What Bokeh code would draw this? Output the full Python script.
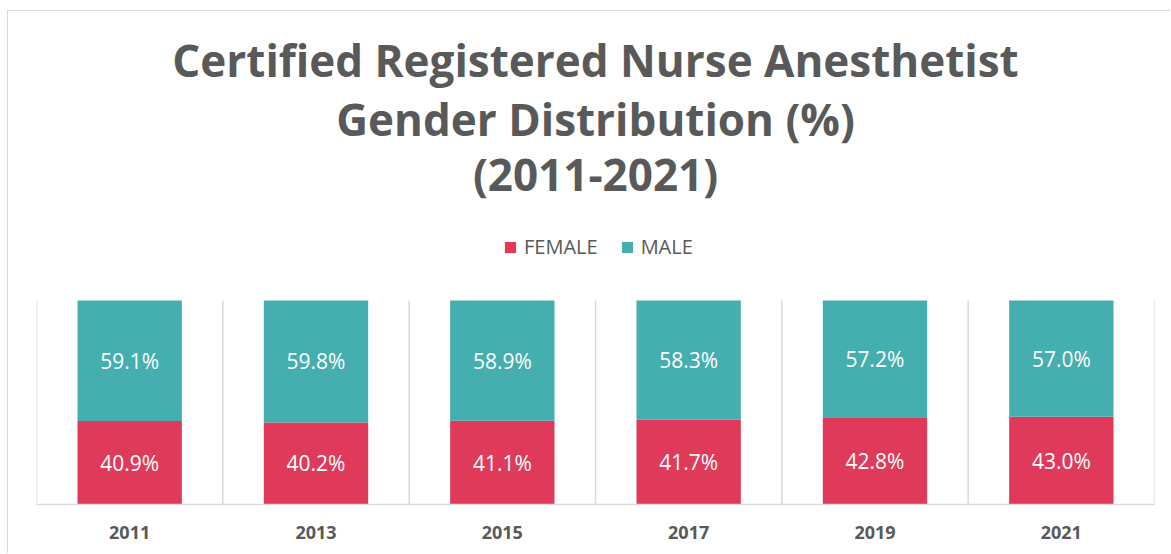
from bokeh.plotting import figure
from bokeh.models import ColumnDataSource, Range1d, FixedTicker, Label, Legend, LegendItem
from bokeh.core.properties import value
from bokeh.embed import file_html
from bokeh.resources import INLINE

# ---- data ----
years = ["2011", "2013", "2015", "2017", "2019", "2021"]
female = [40.9, 40.2, 41.1, 41.7, 42.8, 43.0]
male = [59.1, 59.8, 58.9, 58.3, 57.2, 57.0]
series_names = ["FEMALE", "MALE"]
title_lines = ["Certified Registered Nurse Anesthetist",
               "Gender Distribution (%)",
               "(2011-2021)"]

# ---- style ----
FEMALE_COLOR = "#E03A5A"
MALE_COLOR = "#45AEAF"
TEXT_COLOR = "#595959"
GRID_COLOR = "#D9D9D9"
FONT = "Open Sans"

W, H = 1163, 543
FRAME_H = 493          # frame spans from figure top to the axis line
PX_PER_UNIT = 204      # pixel height of a 100% bar

n = len(years)
xs = [i + 0.5 for i in range(n)]
f_top = [v / 100 for v in female]
m_top = [(f + m) / 100 for f, m in zip(female, male)]

p = figure(width=W, height=H, output_backend="svg", toolbar_location=None,
           title=None,
           x_range=Range1d(0, n), y_range=Range1d(0, FRAME_H / PX_PER_UNIT),
           y_axis_location=None,
           min_border_left=28, min_border_right=17,
           min_border_top=0, min_border_bottom=50,
           styles={"margin-left": "7px", "margin-top": "10px",
                   "border-top": "1px solid #D9D9D9",
                   "border-left": "1px solid #D9D9D9"})
p.outline_line_color = None
p.grid.visible = False
p.background_fill_color = "white"
p.border_fill_color = "white"

# category separators (vertical gridlines between categories)
bounds = list(range(n + 1))
p.segment(x0=bounds, x1=bounds, y0=[0] * len(bounds), y1=[1] * len(bounds),
          line_color=GRID_COLOR, line_width=1.5)

src = ColumnDataSource(dict(
    x=xs, f_top=f_top, m_top=m_top,
    f_mid=[v / 2 for v in f_top],
    m_mid=[(a + b) / 2 for a, b in zip(f_top, m_top)],
    f_txt=[f"{v:.1f}%" for v in female],
    m_txt=[f"{v:.1f}%" for v in male],
))

rf = p.vbar(x="x", bottom=0, top="f_top", width=0.56, source=src,
            fill_color=FEMALE_COLOR, line_color=None)
rm = p.vbar(x="x", bottom="f_top", top="m_top", width=0.56, source=src,
            fill_color=MALE_COLOR, line_color=None)

for ycol, tcol in (("f_mid", "f_txt"), ("m_mid", "m_txt")):
    p.text(x="x", y=ycol, text=tcol, source=src,
           text_align="center", text_baseline="middle",
           text_color="white", text_font=value(FONT),
           text_font_size=value("21px"))

# x axis
ax = p.xaxis[0]
ax.ticker = FixedTicker(ticks=xs)
ax.major_label_overrides = {x: y for x, y in zip(xs, years)}
ax.axis_line_color = GRID_COLOR
ax.axis_line_width = 1.5
ax.major_tick_line_color = None
ax.minor_tick_line_color = None
ax.major_tick_out = 0
ax.major_label_standoff = 21
ax.major_label_text_font = FONT
ax.major_label_text_font_style = "bold"
ax.major_label_text_font_size = "18px"
ax.major_label_text_color = TEXT_COLOR

# title lines
title_px = [48, 107, 162]
for txt, py in zip(title_lines, title_px):
    p.add_layout(Label(x=n / 2, y=(FRAME_H - py) / PX_PER_UNIT, text=txt,
                       text_align="center", text_baseline="middle",
                       text_font=FONT, text_font_style="bold",
                       text_font_size="44px", text_color=TEXT_COLOR))

# legend
legend = Legend(items=[LegendItem(label=series_names[0], renderers=[rf]),
                       LegendItem(label=series_names[1], renderers=[rm])],
                orientation="horizontal", location=(467, 244),
                glyph_width=14, glyph_height=14, label_standoff=7,
                spacing=22, padding=0, margin=0,
                border_line_color=None, background_fill_alpha=0,
                label_text_font=FONT, label_text_font_size="20px",
                label_text_color=TEXT_COLOR)
p.add_layout(legend)

open("out.html", "w").write(file_html(p, INLINE))
